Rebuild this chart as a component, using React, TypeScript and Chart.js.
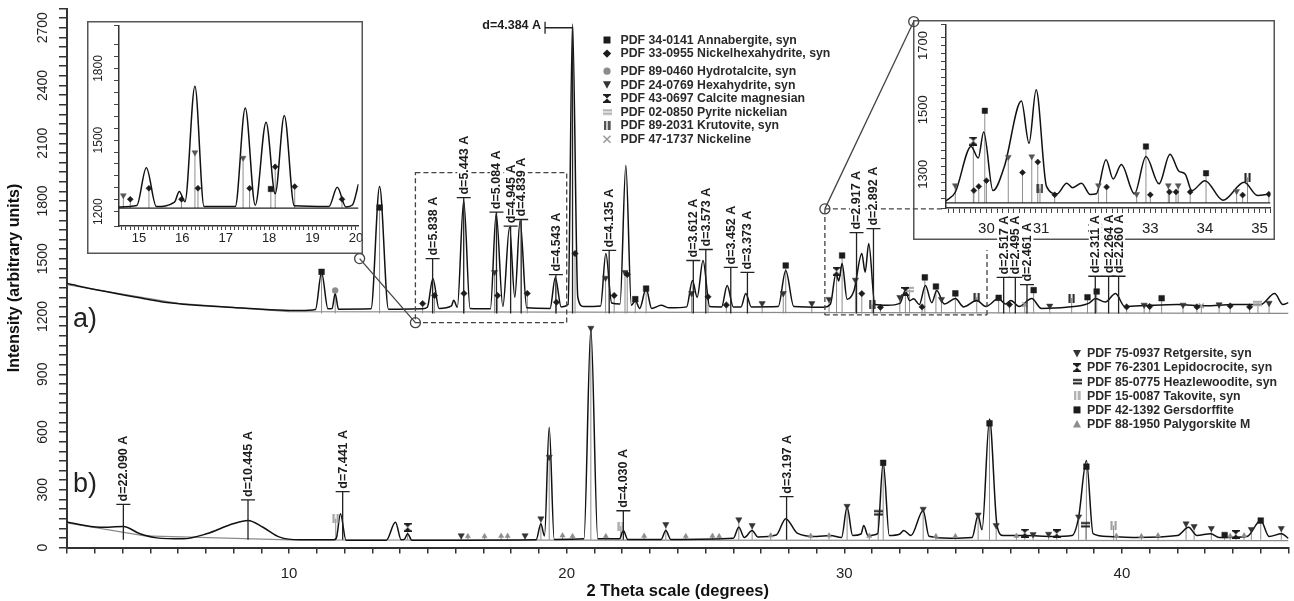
import React, { useEffect, useRef } from 'react';
import { Chart, registerables } from 'chart.js';

Chart.register(...registerables);

const FONT = "'Liberation Sans', Arial, Helvetica, sans-serif";
const INK = '#1c1c1c';
const GREY = '#8a8a8a';

// ---------------- pattern a) (upper trace, main axes) ----------------
const aTheta = [2.0, 3.2, 4.5, 5.6, 8.0, 10.4, 10.95, 11.17, 11.4, 11.55, 11.66, 11.78, 12.95, 13.26, 13.58, 14.8, 14.98, 15.18, 15.4, 15.85, 15.93, 16.06, 16.29, 16.52, 17.25, 17.46, 17.7, 17.94, 18.13, 18.32, 18.56, 19.4, 19.59, 19.8, 20.05, 20.21, 20.4, 20.6, 21.22, 21.41, 21.62, 21.92, 22.13, 22.33, 22.47, 22.63, 22.86, 23.06, 23.4, 23.7, 24.32, 24.53, 24.7, 24.91, 25.15, 25.58, 25.78, 26.0, 26.28, 26.45, 26.65, 27.62, 27.89, 28.18, 29.25, 29.5, 29.7, 29.8, 29.92, 30.1, 30.35, 30.63, 30.75, 30.88, 31.1, 31.55, 32.0, 32.2, 32.35, 32.5, 32.7, 32.92, 33.15, 33.33, 33.6, 34.0, 34.3, 34.77, 35.1, 35.56, 35.8, 36.0, 36.3, 36.75, 37.1, 38.0, 38.8, 39.05, 39.4, 39.77, 40.1, 41.0, 42.0, 43.0, 44.0, 45.0, 45.5, 45.8, 46.0];
const aCounts = [1371, 1335, 1300, 1273, 1247, 1231, 1236, 1429, 1240, 1242, 1320, 1238, 1240, 1875, 1238, 1240, 1248, 1397, 1242, 1255, 1285, 1248, 1803, 1242, 1240, 1735, 1252, 1664, 1300, 1699, 1245, 1242, 1403, 1250, 1262, 2720, 1300, 1252, 1255, 1527, 1270, 1265, 1984, 1258, 1283, 1242, 1345, 1242, 1258, 1245, 1250, 1387, 1300, 1491, 1252, 1250, 1361, 1250, 1250, 1320, 1250, 1252, 1439, 1252, 1248, 1265, 1423, 1385, 1475, 1290, 1335, 1527, 1430, 1579, 1262, 1258, 1268, 1335, 1282, 1292, 1262, 1361, 1272, 1335, 1265, 1293, 1250, 1283, 1252, 1293, 1265, 1283, 1252, 1293, 1242, 1248, 1268, 1293, 1275, 1319, 1252, 1258, 1262, 1256, 1262, 1262, 1319, 1262, 1272];
const aBgTheta = [2, 6, 10, 46];
const aBgCounts = [1365, 1268, 1225, 1216];

// ---------------- pattern b) (lower trace) ----------------
const bTheta = [2.0, 3.19, 4.03, 4.63, 5.23, 6.18, 7.03, 7.98, 8.52, 9.06, 9.66, 10.38, 11.6, 11.7, 11.85, 12.05, 13.5, 13.83, 14.04, 14.15, 14.27, 14.42, 16.0, 18.9, 19.07, 19.2, 19.37, 19.55, 20.62, 20.87, 21.12, 21.9, 22.04, 22.2, 23.4, 23.57, 23.75, 26.0, 26.2, 26.4, 26.68, 26.88, 27.55, 27.89, 28.3, 29.0, 29.5, 29.9, 30.1, 30.3, 30.6, 30.7, 30.85, 31.2, 31.4, 31.62, 32.0, 32.14, 32.4, 32.84, 33.05, 33.8, 34.6, 34.82, 34.96, 35.23, 35.5, 35.72, 36.5, 37.5, 38.2, 38.44, 38.72, 38.96, 39.5, 40.5, 42.0, 42.4, 42.7, 43.2, 43.5, 44.5, 45.0, 45.3, 45.75, 46.0];
const bCounts = [131, 105, 109, 71, 50, 45, 71, 123, 140, 105, 54, 40, 40, 48, 175, 38, 38, 131, 40, 42, 72, 38, 38, 40, 124, 60, 625, 42, 45, 1136, 45, 45, 88, 42, 42, 88, 42, 48, 105, 52, 88, 55, 65, 150, 75, 57, 62, 52, 210, 62, 70, 114, 62, 72, 443, 62, 70, 88, 62, 192, 58, 48, 52, 166, 92, 668, 115, 62, 62, 57, 62, 157, 452, 72, 57, 52, 62, 105, 62, 72, 52, 57, 140, 57, 72, 47];
const bBgTheta = [2, 4.8, 10, 46];
const bBgCounts = [128, 60, 40, 36];

// ---------------- inset 1 (14.5-20 deg) ----------------
const in1Theta = [14.54, 14.95, 15.17, 15.4, 15.82, 15.93, 16.06, 16.29, 16.5, 17.22, 17.45, 17.68, 17.93, 18.14, 18.35, 18.58, 19.38, 19.57, 19.77, 19.92, 20.06];
const in1Counts = [1220, 1226, 1384, 1222, 1240, 1285, 1242, 1725, 1222, 1222, 1634, 1227, 1575, 1275, 1603, 1225, 1222, 1302, 1220, 1228, 1316];

// ---------------- inset 2 (29.3-35.2 deg) ----------------
const in2Theta = [29.26, 29.43, 29.72, 29.85, 29.95, 30.12, 30.33, 30.64, 30.78, 30.91, 31.1, 31.29, 31.47, 31.58, 31.74, 31.9, 32.01, 32.19, 32.32, 32.47, 32.71, 32.92, 33.16, 33.36, 33.52, 33.64, 33.76, 34.0, 34.33, 34.72, 34.96, 35.2];
const in2Counts = [1217, 1244, 1386, 1350, 1431, 1249, 1325, 1527, 1396, 1562, 1262, 1239, 1272, 1258, 1272, 1237, 1239, 1345, 1285, 1330, 1239, 1355, 1270, 1362, 1310, 1300, 1249, 1280, 1219, 1275, 1234, 1239];

// ---------------- reference reflections, pattern a) ----------------
const annaAx = [11.17, 13.26, 22.47, 22.86, 27.89, 29.92, 32.9, 33.3, 34.0, 35.56, 36.82, 38.76, 39.09, 41.43];
const annaAy = [1432, 1766, 1290, 1345, 1465, 1517, 1403, 1356, 1320, 1297, 1337, 1300, 1330, 1295];
const nhexAx = [14.81, 15.24, 16.3, 17.51, 18.58, 19.63, 20.3, 21.71, 22.18, 25.09, 25.75, 30.63, 31.3, 32.8, 35.95, 40.17, 41.0, 42.7, 43.9, 44.6];
const nhexAy = [1267, 1309, 1320, 1309, 1320, 1274, 1527, 1309, 1418, 1302, 1260, 1319, 1248, 1250, 1262, 1250, 1252, 1250, 1255, 1250];
const hexaAx = [17.4, 21.4, 22.1, 24.5, 27.04, 27.8, 28.83, 29.45, 30.4, 32.0, 33.5, 37.4, 40.8, 42.2, 43.5, 45.3];
const hexaAy = [1430, 1400, 1430, 1320, 1268, 1320, 1268, 1290, 1390, 1300, 1290, 1255, 1260, 1260, 1262, 1270];
const calcAx = [29.72, 32.2];
const calcAy = [1435, 1330];
const pyrAx = [32.35, 44.9];
const pyrAy = [1340, 1268];
const krutAx = [31.0, 34.77, 38.19];
const krutAy = [1262, 1300, 1296];
const nickAx = [36.5, 42.86];
const nickAy = [1262, 1255];
const hydroAx = [11.66];
const hydroAy = [1335];

// ---------------- reference reflections, pattern b) ----------------
const retgBx = [16.2, 18.5, 19.07, 19.37, 20.87, 23.57, 26.2, 26.68, 30.1, 32.84, 34.82, 35.47, 36.8, 37.36, 38.44, 42.31, 42.6, 43.22, 44.66, 45.74];
const retgBy = [62, 62, 150, 470, 1140, 120, 145, 115, 215, 200, 170, 115, 68, 70, 160, 124, 110, 100, 95, 100];
const lepiBx = [14.27, 36.5, 37.65, 44.1];
const lepiBy = [105, 75, 72, 68];
const heazBx = [31.22, 38.7];
const heazBy = [180, 118];
const takoBx = [11.68, 21.95, 39.7];
const takoBy = [150, 110, 114];
const gersBx = [31.4, 35.23, 38.72, 43.7, 45.0];
const gersBy = [440, 645, 420, 65, 140];
const palyBx = [16.44, 17.04, 17.64, 17.87, 19.85, 20.21, 21.41, 22.79, 24.29, 25.25, 25.49, 27.35, 28.79, 29.45, 30.9, 33.3, 34.0, 36.2, 39.8, 40.7, 41.3, 43.9, 44.4];
const palyBy = [58, 58, 60, 60, 62, 58, 58, 60, 58, 60, 58, 62, 60, 62, 60, 58, 58, 60, 60, 58, 62, 60, 62];

// ---------------- reflections in the insets ----------------
const in1NhexX = [14.8, 15.23, 15.98, 16.36, 17.55, 18.14, 18.59, 19.68];
const in1NhexY = [1252, 1298, 1252, 1298, 1298, 1388, 1305, 1252];
const in1HexaX = [14.64, 16.29, 17.4];
const in1HexaY = [1268, 1448, 1425];
const in1AnnaX = [18.04];
const in1AnnaY = [1295];
const in2AnnaX = [29.97, 32.92, 34.02];
const in2AnnaY = [1497, 1386, 1303];
const in2NhexX = [29.77, 29.86, 30.0, 30.66, 30.94, 31.25, 32.2, 33.0, 33.35, 33.47, 33.73, 34.69, 35.17];
const in2NhexY = [1249, 1262, 1280, 1305, 1338, 1236, 1260, 1236, 1245, 1245, 1245, 1235, 1238];
const in2HexaX = [29.43, 30.4, 30.83, 32.05, 32.75, 33.33, 33.51, 34.58];
const in2HexaY = [1265, 1353, 1355, 1265, 1238, 1265, 1265, 1247];
const in2CalcX = [29.76];
const in2CalcY = [1403];
const in2KrutX = [30.98, 34.78];
const in2KrutY = [1255, 1290];

// ---------------- d-spacing labels ----------------
const aLabelText = ['d=5.838 A', 'd=5.443 A', 'd=5.084 A', 'd=4.945 A', 'd=4.839 A', 'd=4.543 A', 'd=4.135 A', 'd=3.612 A', 'd=3.573 A', 'd=3.452 A', 'd=3.373 A', 'd=2.917 A', 'd=2.892 A', 'd=2.517 A', 'd=2.495 A', 'd=2.461 A', 'd=2.311 A', 'd=2.264 A', 'd=2.260 A'];
const aLabelX = [15.17, 16.29, 17.47, 17.98, 18.36, 19.61, 21.53, 24.56, 25.01, 25.91, 26.51, 30.44, 31.05, 35.74, 36.16, 36.58, 39.04, 39.52, 39.88];
const aLabelBar = [1501, 1818, 1742, 1669, 1704, 1418, 1543, 1491, 1548, 1455, 1429, 1636, 1657, 1403, 1403, 1366, 1409, 1409, 1409];
const topLabelText = 'd=4.384 A';
const topLabelBarX = 19.22;
const topLabelPeakX = 20.21;
const topLabelLevel = 2700;
const bLabelText = ['d=22.090 A', 'd=10.445 A', 'd=7.441 A', 'd=4.030 A', 'd=3.197 A'];
const bLabelX = [4.03, 8.52, 11.93, 22.04, 27.92];
const bLabelBar = [224, 247, 290, 191, 264];

// ---------------- legends ----------------
const legendAText = ['PDF 34-0141 Annabergite, syn', 'PDF 33-0955 Nickelhexahydrite, syn', 'PDF 89-0460 Hydrotalcite, syn', 'PDF 24-0769 Hexahydrite, syn', 'PDF 43-0697 Calcite magnesian', 'PDF 02-0850 Pyrite nickelian', 'PDF 89-2031 Krutovite, syn', 'PDF 47-1737 Nickeline'];
const legendBText = ['PDF 75-0937 Retgersite, syn', 'PDF 76-2301 Lepidocrocite, syn', 'PDF 85-0775 Heazlewoodite, syn', 'PDF 15-0087 Takovite, syn', 'PDF 42-1392 Gersdorffite', 'PDF 88-1950 Palygorskite M'];

type Kind = 'square' | 'diamond' | 'circle' | 'tridown' | 'triup' | 'hourglass' | 'equal' | 'bars' | 'cross';

const legendASym: [Kind, string][] = [['square', INK], ['diamond', INK], ['circle', '#8c8c8c'], ['tridown', '#333'], ['hourglass', INK], ['equal', '#a8a8a8'], ['bars', INK], ['cross', '#9a9a9a']];
const legendBSym: [Kind, string][] = [['tridown', '#333'], ['hourglass', INK], ['equal', INK], ['bars', '#9a9a9a'], ['square', INK], ['triup', '#8c8c8c']];

const glyphCache: Record<string, HTMLCanvasElement> = {};
function glyph(kind: Kind, color: string): HTMLCanvasElement {
  const key = kind + color;
  if (glyphCache[key]) return glyphCache[key];
  const c = document.createElement('canvas');
  if (kind === 'hourglass') { c.width = 8; c.height = 9; }
  else if (kind === 'equal') { c.width = 9; c.height = 7; }
  else { c.width = 7; c.height = 9; }
  const g = c.getContext('2d')!;
  g.fillStyle = color;
  if (kind === 'hourglass') {
    g.fillRect(0, 0, 8, 1.5);
    g.fillRect(0, 7.5, 8, 1.5);
    g.beginPath(); g.moveTo(0.5, 1); g.lineTo(7.5, 1); g.lineTo(4, 4.5); g.closePath(); g.fill();
    g.beginPath(); g.moveTo(0.5, 8); g.lineTo(7.5, 8); g.lineTo(4, 4.5); g.closePath(); g.fill();
  } else if (kind === 'equal') {
    g.fillRect(0, 0.8, 9, 2); g.fillRect(0, 4.2, 9, 2);
  } else {
    g.fillRect(0.5, 0, 2, 9); g.fillRect(4.5, 0, 2, 9);
  }
  glyphCache[key] = c;
  return c;
}

function drawSymbol(ctx: CanvasRenderingContext2D, kind: Kind, color: string, x: number, y: number) {
  ctx.save();
  ctx.fillStyle = color; ctx.strokeStyle = color; ctx.lineWidth = 1.6;
  ctx.beginPath();
  if (kind === 'square') { ctx.rect(x - 3.5, y - 3.5, 7, 7); ctx.fill(); }
  else if (kind === 'diamond') { ctx.moveTo(x, y - 4.2); ctx.lineTo(x + 4.2, y); ctx.lineTo(x, y + 4.2); ctx.lineTo(x - 4.2, y); ctx.closePath(); ctx.fill(); }
  else if (kind === 'circle') { ctx.arc(x, y, 3.6, 0, Math.PI * 2); ctx.fill(); }
  else if (kind === 'tridown') { ctx.moveTo(x - 4, y - 3.5); ctx.lineTo(x + 4, y - 3.5); ctx.lineTo(x, y + 4); ctx.closePath(); ctx.fill(); }
  else if (kind === 'triup') { ctx.moveTo(x - 4, y + 3.5); ctx.lineTo(x + 4, y + 3.5); ctx.lineTo(x, y - 4); ctx.closePath(); ctx.fill(); }
  else if (kind === 'cross') { ctx.moveTo(x - 3.5, y - 3.5); ctx.lineTo(x + 3.5, y + 3.5); ctx.moveTo(x + 3.5, y - 3.5); ctx.lineTo(x - 3.5, y + 3.5); ctx.stroke(); }
  else { const g = glyph(kind, color); ctx.drawImage(g, x - g.width / 2, y - g.height / 2); }
  ctx.restore();
}

const pts = (xs: number[], ys: number[]) => xs.map((x, i) => ({ x, y: ys[i] }));

function markers(xs: number[], ys: number[], kind: Kind, color: string, base: number, r = 3.4): any {
  let style: any = 'circle';
  let rot = 0;
  let bw = 0.5;
  if (kind === 'square') style = 'rect';
  else if (kind === 'diamond') style = 'rectRot';
  else if (kind === 'circle') style = 'circle';
  else if (kind === 'tridown') { style = 'triangle'; rot = 180; }
  else if (kind === 'triup') style = 'triangle';
  else if (kind === 'cross') { style = 'crossRot'; bw = 1.5; }
  else style = glyph(kind, color);
  return {
    data: pts(xs, ys), showLine: false, pointStyle: style, pointRotation: rot, pointRadius: r,
    pointBackgroundColor: color, pointBorderColor: color, pointBorderWidth: bw,
    stickBase: base, order: 0,
  };
}

function curve(xs: number[], ys: number[], color: string, width: number, order = 1): any {
  return {
    data: pts(xs, ys), borderColor: color, borderWidth: width, pointRadius: 0,
    cubicInterpolationMode: 'monotone', fill: false, order,
  };
}

const sticksPlugin = {
  id: 'sticks',
  beforeDatasetsDraw(chart: any) {
    const ctx = chart.ctx;
    const ys = chart.scales.y;
    chart.data.datasets.forEach((ds: any, i: number) => {
      if (ds.stickBase == null) return;
      const meta = chart.getDatasetMeta(i);
      const yb = ys.getPixelForValue(ds.stickBase);
      ctx.save();
      ctx.strokeStyle = '#8d8d8d';
      ctx.lineWidth = 1;
      meta.data.forEach((p: any) => { ctx.beginPath(); ctx.moveTo(p.x, yb); ctx.lineTo(p.x, p.y); ctx.stroke(); });
      ctx.restore();
    });
  },
};

const boxPlugin = {
  id: 'box',
  afterDraw(chart: any) {
    const ctx = chart.ctx;
    ctx.save();
    ctx.strokeStyle = '#555';
    ctx.lineWidth = 1.5;
    ctx.strokeRect(0.75, 0.75, chart.width - 1.5, chart.height - 1.5);
    ctx.restore();
  },
};

// annotation geometry for the main chart (axis units)
const leftZoom = { rect: [14.55, 1168, 20.0, 1947], from: [12.54, 1501], to: [14.55, 1168] };
const rightZoom = {
  from: [32.5, 2732], to: [29.3, 1759],
  dashed: [[29.3, 1759, 33.62, 1759], [29.3, 1759, 29.3, 1208], [29.3, 1208, 35.14, 1208], [35.14, 1208, 35.14, 1545]],
};

const annotPlugin = {
  id: 'annot',
  afterDraw(chart: any) {
    const ctx: CanvasRenderingContext2D = chart.ctx;
    const xs = chart.scales.x, ys = chart.scales.y;
    const X = (v: number) => xs.getPixelForValue(v);
    const Y = (v: number) => ys.getPixelForValue(v);
    ctx.save();

    // zoom connectors & dashed frames
    ctx.strokeStyle = '#444';
    ctx.lineWidth = 1.3;
    ctx.setLineDash([5, 3]);
    const r = leftZoom.rect;
    ctx.strokeRect(X(r[0]), Y(r[3]), X(r[2]) - X(r[0]), Y(r[1]) - Y(r[3]));
    rightZoom.dashed.forEach((s) => { ctx.beginPath(); ctx.moveTo(X(s[0]), Y(s[1])); ctx.lineTo(X(s[2]), Y(s[3])); ctx.stroke(); });
    ctx.setLineDash([]);
    [leftZoom, rightZoom].forEach((z: any) => {
      ctx.beginPath(); ctx.moveTo(X(z.from[0]), Y(z.from[1])); ctx.lineTo(X(z.to[0]), Y(z.to[1])); ctx.stroke();
      [z.from, z.to].forEach((p: number[]) => { ctx.beginPath(); ctx.arc(X(p[0]), Y(p[1]), 5, 0, Math.PI * 2); ctx.stroke(); });
    });

    // d-spacing labels
    const labelFont = `bold 12.5px ${FONT}`;
    ctx.font = labelFont;
    const all = [
      ...aLabelText.map((t, i) => ({ t, x: aLabelX[i], bar: aLabelBar[i], base: 1216 })),
      ...bLabelText.map((t, i) => ({ t, x: bLabelX[i], bar: bLabelBar[i], base: 40 })),
    ];
    ctx.fillStyle = '#fff';
    all.forEach((l) => {
      const w = ctx.measureText(l.t).width;
      ctx.fillRect(X(l.x) - 6.5, Y(l.bar) - 3 - w - 1, 13, w + 2);
    });
    ctx.strokeStyle = '#222';
    ctx.lineWidth = 1.3;
    all.forEach((l) => {
      const px = X(l.x), pb = Y(l.bar);
      ctx.beginPath(); ctx.moveTo(px, Y(l.base)); ctx.lineTo(px, pb);
      ctx.moveTo(px - 7, pb); ctx.lineTo(px + 7, pb); ctx.stroke();
    });
    ctx.fillStyle = INK;
    all.forEach((l) => {
      ctx.save();
      ctx.translate(X(l.x), Y(l.bar) - 3);
      ctx.rotate(-Math.PI / 2);
      ctx.textAlign = 'left'; ctx.textBaseline = 'middle';
      ctx.fillText(l.t, 0, 0.5);
      ctx.restore();
    });
    // horizontal label for the strongest reflection
    const bx = X(topLabelBarX), by = Y(topLabelLevel), pk = X(topLabelPeakX);
    ctx.beginPath();
    ctx.moveTo(bx, by - 6); ctx.lineTo(bx, by + 6);
    ctx.moveTo(bx, by); ctx.lineTo(pk, by); ctx.lineTo(pk, Y(1216));
    ctx.stroke();
    ctx.textAlign = 'right'; ctx.textBaseline = 'middle';
    ctx.fillText(topLabelText, bx - 4, by - 2);

    // trace labels
    ctx.font = `27px ${FONT}`;
    ctx.textAlign = 'left';
    ctx.fillStyle = '#222';
    ctx.fillText('a)', X(2.22), Y(1182));
    ctx.fillText('b)', X(2.22), Y(325));

    // legends
    ctx.font = `bold 12.3px ${FONT}`;
    ctx.textBaseline = 'middle';
    legendAText.forEach((t, i) => {
      const y = 40 + i * 13.6 + (i >= 2 ? 4 : 0);
      drawSymbol(ctx, legendASym[i][0], legendASym[i][1], 607, y);
      ctx.fillStyle = '#2a2a2a';
      ctx.fillText(t, 620.5, y + 0.5);
    });
    legendBText.forEach((t, i) => {
      const y = 353.5 + i * 14.1;
      drawSymbol(ctx, legendBSym[i][0], legendBSym[i][1], 1077, y);
      ctx.fillStyle = '#2a2a2a';
      ctx.fillText(t, 1087, y + 0.5);
    });
    ctx.restore();
  },
};

const intLabel = (v: any) => (Math.abs(v - Math.round(v)) < 1e-6 ? String(Math.round(v)) : '');

function baseOptions(): any {
  return {
    animation: false,
    responsive: false,
    maintainAspectRatio: false,
    events: [],
    plugins: { legend: { display: false }, tooltip: { enabled: false } },
  };
}

function mainConfig(): any {
  return {
    type: 'line',
    data: {
      datasets: [
        markers(annaAx, annaAy, 'square', INK, 1216, 4),
        markers(nhexAx, nhexAy, 'diamond', INK, 1216, 3.2),
        markers(hexaAx, hexaAy, 'tridown', '#333', 1216, 3.6),
        markers(calcAx, calcAy, 'hourglass', INK, 1216),
        markers(pyrAx, pyrAy, 'equal', '#a8a8a8', 1216),
        markers(krutAx, krutAy, 'bars', INK, 1216),
        markers(nickAx, nickAy, 'cross', '#9a9a9a', 1216, 3.4),
        markers(hydroAx, hydroAy, 'circle', '#8c8c8c', 1216, 3),
        markers(retgBx, retgBy, 'tridown', '#333', 40, 3.6),
        markers(lepiBx, lepiBy, 'hourglass', INK, 40),
        markers(heazBx, heazBy, 'equal', INK, 40),
        markers(takoBx, takoBy, 'bars', '#9a9a9a', 40),
        markers(gersBx, gersBy, 'square', INK, 40, 4),
        markers(palyBx, palyBy, 'triup', '#8c8c8c', 40, 3),
        curve(aTheta, aCounts, '#111', 1.5),
        curve(bTheta, bCounts, '#111', 1.5),
        { ...curve(aBgTheta, aBgCounts, GREY, 1.2, 2), cubicInterpolationMode: 'default', tension: 0 },
        { ...curve(bBgTheta, bBgCounts, GREY, 1.2, 2), cubicInterpolationMode: 'default', tension: 0 },
      ],
    },
    options: {
      ...baseOptions(),
      layout: { padding: { top: 8.5, right: 4, left: 0, bottom: 0 } },
      scales: {
        x: {
          type: 'linear', min: 2, max: 46,
          border: { display: true, color: '#333', width: 2 },
          grid: { drawOnChartArea: false, drawTicks: true, tickLength: 6, color: '#333', lineWidth: 1.5 },
          ticks: { stepSize: 1, autoSkip: false, maxRotation: 0, minRotation: 0, color: '#222', font: { family: FONT, size: 15 }, padding: 11, callback: (v: any) => (v % 10 === 0 ? String(v) : '') },
          title: { display: true, text: '2 Theta scale (degrees)', color: '#111', font: { family: FONT, size: 16.5, weight: 'bold' }, padding: { top: 0, bottom: 0 } },
          afterFit: (s: any) => { s.height = 53.5; s.paddingLeft = 0; s.paddingRight = 0; },
        },
        y: {
          type: 'linear', min: 0, max: 2800,
          border: { display: true, color: '#333', width: 2 },
          grid: { drawOnChartArea: false, drawTicks: true, tickLength: 8, color: '#333', lineWidth: 1.5 },
          ticks: { stepSize: 50, autoSkip: false, minRotation: 90, maxRotation: 90, crossAlign: 'center', padding: 0, color: '#222', font: { family: FONT, size: 14 }, callback: (v: any) => (v % 300 === 0 ? String(v) : '') },
          title: { display: true, text: 'Intensity (arbitrary units)', color: '#111', font: { family: FONT, size: 16, weight: 'bold' }, padding: { top: 5, bottom: 0 } },
          afterFit: (s: any) => { s.width = 67; s.paddingTop = 0; s.paddingBottom = 0; },
        },
      },
    },
    plugins: [sticksPlugin, annotPlugin],
  };
}

function insetConfig(o: any): any {
  return {
    type: 'line',
    data: { datasets: o.datasets },
    options: {
      ...baseOptions(),
      layout: { padding: { top: 0, right: o.padRight, left: 0, bottom: 0 } },
      scales: {
        x: {
          type: 'linear', min: o.xmin, max: o.xmax,
          border: { display: true, color: '#333', width: 1.5 },
          grid: { drawOnChartArea: false, drawTicks: true, tickLength: o.xTick, color: '#444', lineWidth: 1 },
          ticks: { stepSize: 0.1, includeBounds: false, autoSkip: false, maxRotation: 0, minRotation: 0, color: '#222', font: { family: FONT, size: o.xFont }, padding: o.xPad, callback: intLabel },
          afterFit: (s: any) => { s.height = o.xHeight; s.paddingLeft = 0; s.paddingRight = 0; },
        },
        y: {
          type: 'linear', min: o.ymin, max: o.ymax,
          border: { display: true, color: '#333', width: 1.5 },
          grid: { drawOnChartArea: false, drawTicks: true, tickLength: 5, color: '#444', lineWidth: 1 },
          ticks: { stepSize: o.yStep, autoSkip: false, minRotation: 90, maxRotation: 90, crossAlign: 'center', padding: o.yPad, color: '#222', font: { family: FONT, size: o.yFont }, callback: o.yLabel },
          afterFit: (s: any) => { s.width = o.yWidth; s.paddingTop = 0; s.paddingBottom = 0; },
        },
      },
    },
    plugins: [sticksPlugin, boxPlugin],
  };
}

function inset1Config(): any {
  return insetConfig({
    datasets: [
      markers(in1NhexX, in1NhexY, 'diamond', INK, 1215, 3),
      markers(in1HexaX, in1HexaY, 'tridown', '#555', 1215, 3.4),
      markers(in1AnnaX, in1AnnaY, 'square', INK, 1215, 3.8),
      curve(in1Theta, in1Counts, '#111', 1.5),
      { ...curve([14.54, 20.06], [1215, 1215], '#222', 1.4, 2), tension: 0, cubicInterpolationMode: 'default' },
    ],
    xmin: 14.54, xmax: 20.06, ymin: 1140, ymax: 1980, yStep: 50,
    yLabel: (v: any) => (v % 300 === 0 ? String(v) : ''),
    padRight: 2, xHeight: 28, yWidth: 32, xTick: 4, xFont: 13, xPad: 1, yFont: 12, yPad: 2,
  });
}

function inset2Config(): any {
  return insetConfig({
    datasets: [
      markers(in2AnnaX, in2AnnaY, 'square', INK, 1211, 3.8),
      markers(in2NhexX, in2NhexY, 'diamond', INK, 1211, 3),
      markers(in2HexaX, in2HexaY, 'tridown', '#555', 1211, 3.4),
      markers(in2CalcX, in2CalcY, 'hourglass', INK, 1211),
      markers(in2KrutX, in2KrutY, 'bars', INK, 1211),
      curve(in2Theta, in2Counts, '#111', 1.5),
      { ...curve([29.26, 35.2], [1211, 1211], '#222', 1.4, 2), tension: 0, cubicInterpolationMode: 'default' },
    ],
    xmin: 29.26, xmax: 35.2, ymin: 1195, ymax: 1765, yStep: 25,
    yLabel: (v: any) => (v % 200 === 100 ? String(v) : ''),
    padRight: 1, xHeight: 32, yWidth: 33, xTick: 5, xFont: 15, xPad: 7, yFont: 13, yPad: 3,
  });
}

export default function App() {
  const mainRef = useRef<HTMLCanvasElement>(null);
  const in1Ref = useRef<HTMLCanvasElement>(null);
  const in2Ref = useRef<HTMLCanvasElement>(null);

  useEffect(() => {
    const charts = [
      new Chart(in1Ref.current!, inset1Config()),
      new Chart(in2Ref.current!, inset2Config()),
      new Chart(mainRef.current!, mainConfig()),
    ];
    return () => charts.forEach((c) => c.destroy());
  }, []);

  return (
    <div style={{ position: 'fixed', left: 0, top: 0, width: 1294, height: 601, background: '#fff', overflow: 'hidden' }}>
      <canvas ref={in1Ref} width={276} height={233} style={{ position: 'absolute', left: 87, top: 21, width: 276, height: 233, zIndex: 1 }} />
      <canvas ref={in2Ref} width={362} height={220} style={{ position: 'absolute', left: 913, top: 20, width: 362, height: 220, zIndex: 1 }} />
      <canvas ref={mainRef} width={1294} height={601} style={{ position: 'absolute', left: 0, top: 0, width: 1294, height: 601, zIndex: 2 }} />
    </div>
  );
}
